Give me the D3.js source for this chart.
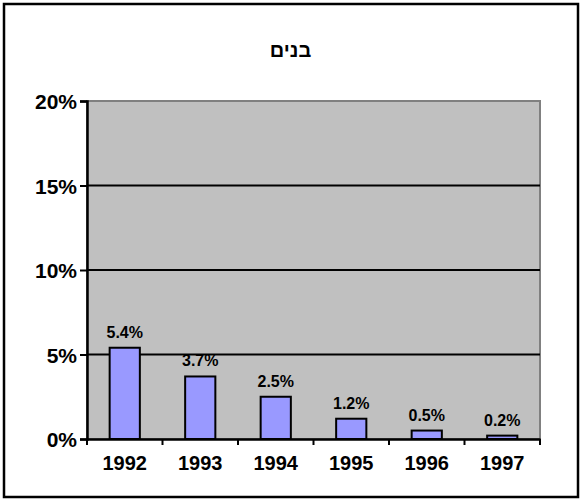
<!DOCTYPE html>
<html>
<head>
<meta charset="utf-8">
<script src="https://cdn.jsdelivr.net/npm/d3@7"></script>
<style>
  body { margin: 0; background: #fff; }
  text { font-family: "Liberation Sans", Arial, sans-serif; font-weight: bold; fill: #000; }
</style>
</head>
<body>
<script>
// chart data
var years = ["1992", "1993", "1994", "1995", "1996", "1997"];
var values = [5.4, 3.7, 2.5, 1.2, 0.5, 0.2];
var yTicks = [0, 5, 10, 15, 20];
var title = "בנים";

var W = 581, H = 500;
var margin = {top: 101, right: 41, bottom: 61, left: 87};

var svg = d3.select("body").append("svg").attr("width", W).attr("height", H);

// outer frame
svg.append("rect")
    .attr("x", 4).attr("y", 4)
    .attr("width", W - 7).attr("height", H - 7)
    .attr("fill", "#fff").attr("stroke", "#000").attr("stroke-width", 2.5);

svg.append("text")
    .attr("x", W / 2).attr("y", 57)
    .attr("text-anchor", "middle")
    .style("font-size", "20px")
    .text(title);

var x = d3.scaleBand().domain(years).range([margin.left, W - margin.right]);
var y = d3.scaleLinear().domain([0, 20]).range([H - margin.bottom, margin.top]);

// plot area
svg.append("rect")
    .attr("x", margin.left).attr("y", margin.top)
    .attr("width", W - margin.left - margin.right)
    .attr("height", H - margin.top - margin.bottom)
    .attr("fill", "#c0c0c0").attr("stroke", "#808080").attr("stroke-width", 2);

// grid lines
svg.append("g").selectAll("line")
    .data(yTicks.filter(function (d) { return d > 0 && d < 20; }))
    .enter().append("line")
    .attr("x1", margin.left).attr("x2", W - margin.right)
    .attr("y1", function (d) { return y(d); })
    .attr("y2", function (d) { return y(d); })
    .attr("stroke", "#000").attr("stroke-width", 2);

// bars
var barW = x.bandwidth() * 0.4;
svg.append("g").selectAll("rect")
    .data(values)
    .enter().append("rect")
    .attr("x", function (d, i) { return x(years[i]) + (x.bandwidth() - barW) / 2; })
    .attr("y", function (d) { return y(d); })
    .attr("width", barW)
    .attr("height", function (d) { return y(0) - y(d); })
    .attr("fill", "#9999ff").attr("stroke", "#000").attr("stroke-width", 2);

// value labels
svg.append("g").selectAll("text")
    .data(values)
    .enter().append("text")
    .attr("x", function (d, i) { return x(years[i]) + x.bandwidth() / 2; })
    .attr("y", function (d) { return y(d) - 10; })
    .attr("text-anchor", "middle")
    .style("font-size", "16px")
    .text(function (d) { return d.toFixed(1) + "%"; });

// y axis
var yAxis = svg.append("g")
    .attr("transform", "translate(" + margin.left + ",0)")
    .call(d3.axisLeft(y).tickValues(yTicks).tickSize(7).tickPadding(3)
        .tickFormat(function (d) { return d + "%"; }));
yAxis.selectAll("text").style("font-size", "21px").attr("dy", "0.36em");

// x axis with ticks between categories
var xAxis = svg.append("g")
    .attr("transform", "translate(0," + y(0) + ")")
    .call(d3.axisBottom(x).tickSize(0).tickPadding(17));
xAxis.selectAll("text").style("font-size", "20px");
xAxis.selectAll(".boundary")
    .data(years.concat(["end"]))
    .enter().append("line")
    .attr("x1", function (d, i) { return margin.left + i * x.step(); })
    .attr("x2", function (d, i) { return margin.left + i * x.step(); })
    .attr("y1", 0).attr("y2", 6)
    .attr("stroke", "#000").attr("stroke-width", 2);

svg.selectAll(".domain").attr("stroke", "#000").attr("stroke-width", 2.5);
svg.selectAll(".tick line").attr("stroke", "#000").attr("stroke-width", 2);
</script>
</body>
</html>
